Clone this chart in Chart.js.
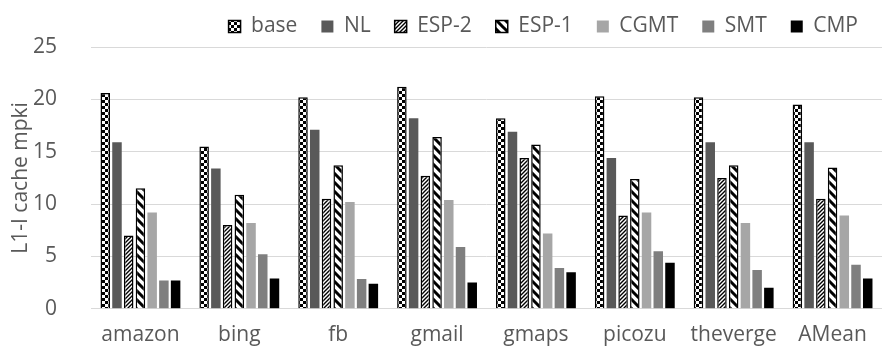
<!DOCTYPE html>
<html>
  <head>
    <title>L1-I cache mpki</title>
    <script src="https://cdn.jsdelivr.net/npm/chart.js"></script>
    <style>
      body {
        margin: 0;
        background: #fff;
      }
      #wrap {
        width: 882px;
        height: 356px;
        position: relative;
        overflow: hidden;
      }
      /* canvas a bit taller and lifted so the legend hugs the top edge */
      #inner {
        position: absolute;
        left: 0;
        top: -8px;
        width: 882px;
        height: 364px;
      }
    </style>
  </head>
  <body>
    <div id="wrap"><div id="inner"><canvas id="chart"></canvas></div></div>

    <script>
      const categories = ["amazon", "bing", "fb", "gmail", "gmaps", "picozu", "theverge", "AMean"];
      const seriesNames = ["base", "NL", "ESP-2", "ESP-1", "CGMT", "SMT", "CMP"];
      const base = [20.6, 15.5, 20.2, 21.2, 18.2, 20.3, 20.2, 19.5];
      const nl = [15.9, 13.4, 17.1, 18.2, 16.9, 14.4, 15.9, 15.9];
      const esp2 = [7.0, 8.0, 10.5, 12.7, 14.4, 8.9, 12.5, 10.5];
      const esp1 = [11.5, 10.9, 13.7, 16.4, 15.7, 12.4, 13.7, 13.5];
      const cgmt = [9.2, 8.2, 10.2, 10.4, 7.2, 9.2, 8.2, 8.9];
      const smt = [2.7, 5.2, 2.85, 5.9, 3.9, 5.5, 3.7, 4.2];
      const cmp = [2.7, 2.9, 2.4, 2.5, 3.5, 4.4, 2.0, 2.9];
      const yTicks = [0, 5, 10, 15, 20, 25];

      const textColor = "#595959";
      const font = { family: "'Open Sans', sans-serif", size: 21 };

      // small tiles used as bar fills
      function makePattern(kind) {
        const c = document.createElement("canvas");
        const ctx = c.getContext("2d");
        if (kind === "dots") {
          c.width = 6; c.height = 6;
          ctx.fillStyle = "#fff"; ctx.fillRect(0, 0, 6, 6);
          ctx.fillStyle = "#000";
          ctx.fillRect(0, 0, 3, 3);
          ctx.fillRect(3, 3, 3, 3);
        } else if (kind === "fine") {
          c.width = 4; c.height = 4;
          ctx.fillStyle = "#fff"; ctx.fillRect(0, 0, 4, 4);
          ctx.strokeStyle = "#000"; ctx.lineWidth = 1.4;
          ctx.beginPath();
          ctx.moveTo(-1, 5); ctx.lineTo(5, -1);
          ctx.moveTo(-1, 1); ctx.lineTo(1, -1);
          ctx.moveTo(3, 5); ctx.lineTo(5, 3);
          ctx.stroke();
        } else {
          c.width = 9; c.height = 9;
          ctx.fillStyle = "#fff"; ctx.fillRect(0, 0, 9, 9);
          ctx.strokeStyle = "#000"; ctx.lineWidth = 3;
          ctx.beginPath();
          ctx.moveTo(-1, -1); ctx.lineTo(10, 10);
          ctx.moveTo(-5, 4); ctx.lineTo(5, 14);
          ctx.moveTo(4, -5); ctx.lineTo(14, 5);
          ctx.stroke();
        }
        return c.getContext("2d").createPattern(c, "repeat");
      }

      const fills = [makePattern("dots"), "#595959", makePattern("fine"), makePattern("wide"), "#a6a6a6", "#7f7f7f", "#000000"];
      const values = [base, nl, esp2, esp1, cgmt, smt, cmp];
      const bordered = [true, false, true, true, false, false, false];

      const datasets = seriesNames.map((name, i) => ({
        label: name,
        data: values[i],
        backgroundColor: fills[i],
        borderColor: "#000",
        borderWidth: bordered[i] ? 1.5 : 0,
        categoryPercentage: 0.83,
        barPercentage: 0.81
      }));

      new Chart(document.getElementById("chart"), {
        type: "bar",
        data: { labels: categories, datasets },
        options: {
          responsive: true,
          maintainAspectRatio: false,
          animation: false,
          layout: { padding: { left: 2, right: 0, top: 0, bottom: 2 } },
          plugins: {
            legend: {
              position: "top",
              align: "end",
              labels: {
                boxWidth: 12,
                boxHeight: 12,
                padding: 24,
                color: textColor,
                font: font
              }
            },
            tooltip: { enabled: false }
          },
          scales: {
            x: {
              grid: { display: false },
              border: { display: true, color: "#d9d9d9" },
              ticks: { color: textColor, font: font, padding: 6 }
            },
            y: {
              min: 0,
              max: 25,
              afterBuildTicks: (axis) => { axis.ticks = yTicks.map(v => ({ value: v })); },
              afterFit: (axis) => { axis.width = 89; },
              grid: { color: "#d9d9d9", drawTicks: false },
              border: { display: false },
              ticks: { color: textColor, font: font, padding: 34 },
              title: { display: true, text: "L1-I cache mpki", color: textColor, font: font, padding: 6 }
            }
          }
        }
      });
    </script>
  </body>
</html>
